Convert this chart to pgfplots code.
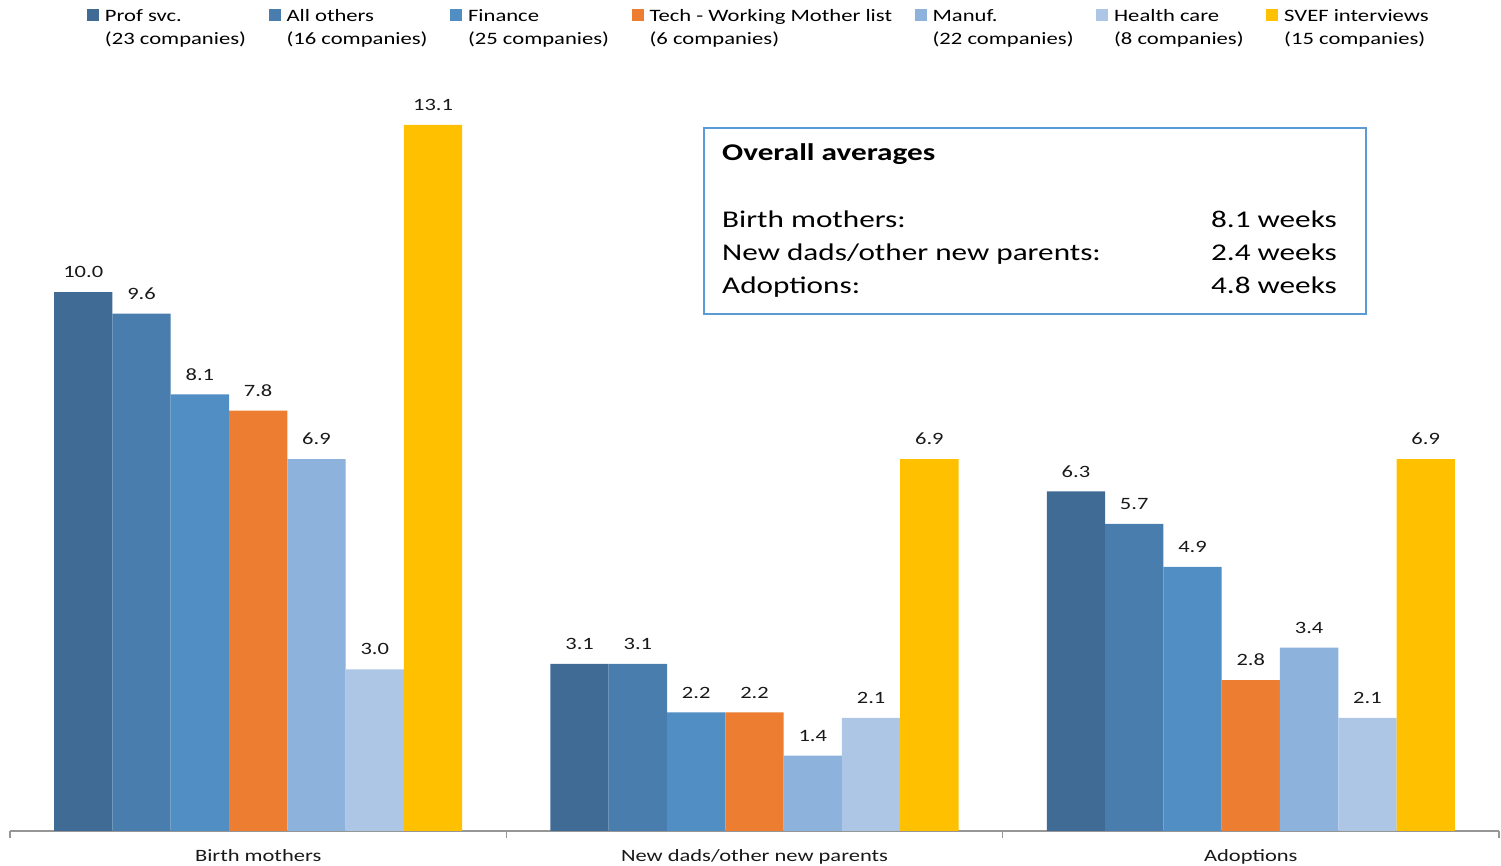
\documentclass[border=0pt]{standalone}
\usepackage{pgfplots}
\pgfplotsset{compat=1.18}
\usepackage{fontspec}
\setmainfont{Carlito}[FakeStretch=1.3]
\definecolor{cProf}{RGB}{64,107,149}
\definecolor{cAll}{RGB}{73,125,174}
\definecolor{cFin}{RGB}{80,142,196}
\definecolor{cTech}{RGB}{237,125,49}
\definecolor{cMan}{RGB}{141,178,220}
\definecolor{cHealth}{RGB}{173,198,230}
\definecolor{cSVEF}{RGB}{255,192,0}
\definecolor{boxblue}{RGB}{91,155,213}
\definecolor{axisgray}{RGB}{150,150,150}
\pgfplotsset{
  sq/.style={fill=#1, draw=none,
    legend image code/.code={\fill[##1] (0pt,0pt) rectangle (12pt,12pt);}},
}
\begin{document}
\begin{tikzpicture}
\useasboundingbox (-10pt,-35pt) rectangle (1491pt,831pt);
\begin{axis}[
  scale only axis, width=1489pt, height=830pt,
  xmin=-0.5, xmax=2.5, ymin=0, ymax=15.4,
  axis x line*=bottom, axis y line=none,
  x axis line style={draw=axisgray, line width=1.2pt, -},
  xtick={0,1,2},
  xticklabels={Birth mothers, New dads/other new parents, Adoptions},
  major tick length=0pt,
  tick align=outside,
  extra x ticks={-0.5,0.5,1.5,2.5},
  extra x tick labels={,,,},
  extra x tick style={major tick length=7pt, tick style={draw=axisgray, line width=1.2pt}},
  xticklabel style={font=\fontsize{17.3}{20}\selectfont, inner sep=0pt, anchor=north, yshift=-18pt, text=black!90},
  ybar=0pt, bar width=58.3pt,
  nodes near coords={\pgfmathprintnumber[fixed,fixed zerofill,precision=1,assume math mode=true]{\pgfplotspointmeta}},
  nodes near coords style={font=\fontsize{17.3}{20}\selectfont, inner sep=0pt, anchor=south, yshift=14pt, text=black!90},
  legend columns=7,
  legend style={at={(0.05171,0.99518)}, anchor=north west, draw=none, fill=none,
    inner sep=0pt, outer sep=0pt, font=\fontsize{17.4}{23}\selectfont,
    nodes={inner sep=0pt},
    cells={anchor=base west},
    /tikz/every odd column/.append style={column sep=6pt},
    /tikz/every even column/.append style={column sep=22.5pt}},
]
\addplot[sq=cProf] coordinates {(0,10.0) (1,3.1) (2,6.3)};
\addlegendentry{\begin{tabular}[t]{@{}l@{}}Prof svc.\\(23 companies)\end{tabular}}
\addplot[sq=cAll] coordinates {(0,9.6) (1,3.1) (2,5.7)};
\addlegendentry{\begin{tabular}[t]{@{}l@{}}All others\\(16 companies)\end{tabular}}
\addplot[sq=cFin] coordinates {(0,8.1) (1,2.2) (2,4.9)};
\addlegendentry{\begin{tabular}[t]{@{}l@{}}Finance\\(25 companies)\end{tabular}}
\addplot[sq=cTech] coordinates {(0,7.8) (1,2.2) (2,2.8)};
\addlegendentry{\begin{tabular}[t]{@{}l@{}}Tech - Working Mother list\\(6 companies)\end{tabular}}
\addplot[sq=cMan] coordinates {(0,6.9) (1,1.4) (2,3.4)};
\addlegendentry{\begin{tabular}[t]{@{}l@{}}Manuf.\\(22 companies)\end{tabular}}
\addplot[sq=cHealth] coordinates {(0,3.0) (1,2.1) (2,2.1)};
\addlegendentry{\begin{tabular}[t]{@{}l@{}}Health care\\(8 companies)\end{tabular}}
\addplot[sq=cSVEF] coordinates {(0,13.1) (1,6.9) (2,6.9)};
\addlegendentry{\begin{tabular}[t]{@{}l@{}}SVEF interviews\\(15 companies)\end{tabular}}
\end{axis}
\draw[color=boxblue, line width=1.5pt, fill=white] (694pt,517pt) rectangle (1356pt,703pt);
\begin{scope}[every node/.style={inner sep=0pt, font=\fontsize{24}{28}\selectfont, text=black}]
\node[anchor=base west, font=\fontsize{24}{28}\selectfont\bfseries] at (712pt,670pt) {Overall averages};
\node[anchor=base west] at (712pt,603pt) {Birth mothers:};
\node[anchor=base west] at (712pt,570pt) {New dads/other new parents:};
\node[anchor=base west] at (712pt,537pt) {Adoptions:};
\node[anchor=base east] at (1327pt,603pt) {8.1 weeks};
\node[anchor=base east] at (1327pt,570pt) {2.4 weeks};
\node[anchor=base east] at (1327pt,537pt) {4.8 weeks};
\end{scope}
\end{tikzpicture}
\end{document}
